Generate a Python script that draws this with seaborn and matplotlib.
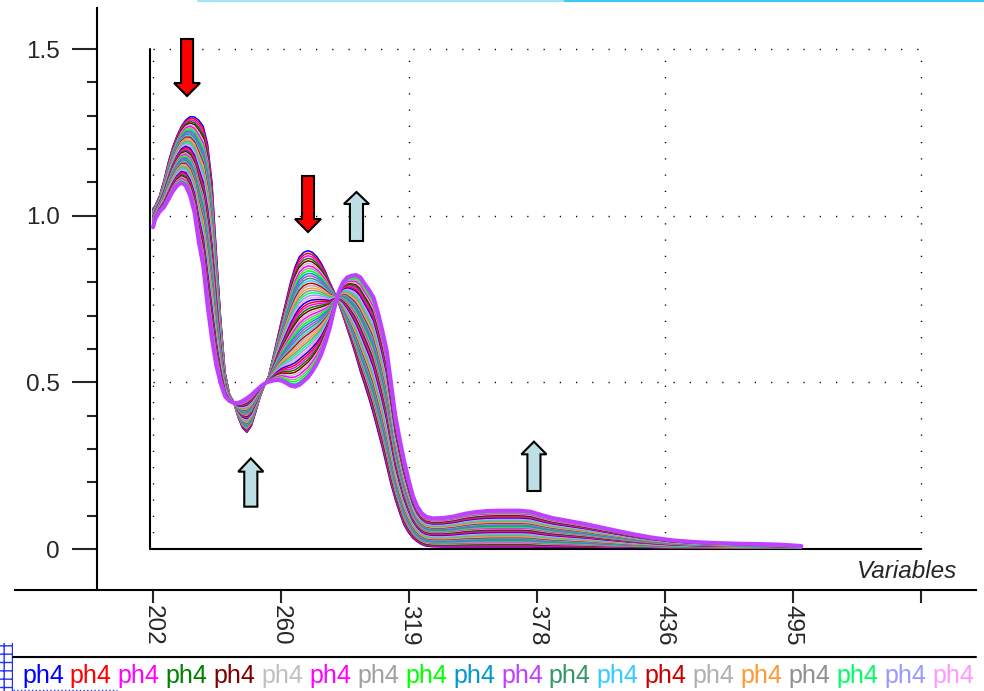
import numpy as np
import pandas as pd
import matplotlib
matplotlib.use("Agg")
import matplotlib.pyplot as plt
from matplotlib.lines import Line2D
from matplotlib.patches import FancyArrow, Rectangle
from matplotlib.ticker import NullLocator
import seaborn as sns

# ---- spectra -------------------------------------------------------------
wavelength = [202, 203, 205, 207, 209, 211, 213, 215, 217, 219, 221, 223, 225,
              227, 229, 231, 233, 235, 237, 239, 241, 243, 245, 247, 249, 251,
              253, 255, 257, 259, 261, 263, 265, 267, 269, 271, 273, 275, 277,
              279, 281, 283, 285, 287, 289, 291, 293, 295, 297, 299, 301, 303,
              305, 307, 309, 311, 313, 315, 317, 319, 321, 323, 325, 327, 330,
              335, 340, 345, 350, 355, 360, 365, 370, 375, 380, 385, 390, 395,
              400, 410, 420, 430, 440, 450, 460, 470, 480, 490, 499]

# first spectrum of the series (acidic form)
acid_form = [1.02, 1.03, 1.06, 1.105, 1.16, 1.205, 1.24, 1.268, 1.287, 1.297,
             1.296, 1.286, 1.268, 1.215, 1.10, 0.89, 0.69, 0.53, 0.465, 0.44,
             0.395, 0.363, 0.35, 0.368, 0.41, 0.455, 0.49, 0.52, 0.575, 0.633,
             0.69, 0.745, 0.80, 0.845, 0.876, 0.89, 0.895, 0.89, 0.877, 0.858,
             0.832, 0.80, 0.772, 0.738, 0.70, 0.66, 0.62, 0.578, 0.532, 0.492,
             0.45, 0.405, 0.355, 0.305, 0.25, 0.195, 0.148, 0.108, 0.072, 0.05,
             0.033, 0.022, 0.014, 0.009, 0.007, 0.006, 0.006, 0.006, 0.006,
             0.006, 0.006, 0.006, 0.006, 0.006, 0.005, 0.005, 0.005, 0.005,
             0.005, 0.004, 0.004, 0.004, 0.003, 0.003, 0.003, 0.003, 0.003,
             0.003, 0.003]

# last spectrum of the series (basic form)
base_form = [0.965, 0.99, 1.012, 1.025, 1.048, 1.072, 1.09, 1.099, 1.09, 1.06,
             1.01, 0.92, 0.85, 0.73, 0.63, 0.55, 0.497, 0.458, 0.444, 0.438,
             0.438, 0.444, 0.452, 0.462, 0.474, 0.486, 0.496, 0.502, 0.505,
             0.507, 0.505, 0.498, 0.49, 0.487, 0.492, 0.503, 0.515, 0.533,
             0.555, 0.583, 0.62, 0.663, 0.72, 0.77, 0.80, 0.815, 0.82, 0.822,
             0.815, 0.795, 0.777, 0.755, 0.71, 0.657, 0.597, 0.50, 0.40, 0.33,
             0.265, 0.21, 0.16, 0.128, 0.108, 0.097, 0.092, 0.093, 0.098, 0.106,
             0.111, 0.114, 0.115, 0.115, 0.115, 0.112, 0.102, 0.093, 0.087,
             0.081, 0.075, 0.061, 0.047, 0.035, 0.026, 0.021, 0.018, 0.016,
             0.015, 0.013, 0.009]

# degree of conversion for each recorded spectrum
conversion = [0.0, 0.02, 0.04, 0.06, 0.08, 0.10, 0.12, 0.14, 0.16, 0.18,
              0.20, 0.22, 0.24, 0.26, 0.28, 0.30, 0.32, 0.34, 0.36, 0.38,
              0.40, 0.42, 0.44, 0.46, 0.48, 0.50, 0.52, 0.54, 0.56, 0.58,
              0.60, 0.62, 0.64, 0.66, 0.68, 0.70, 0.72, 0.74, 0.76, 0.78,
              0.80, 0.82, 0.84, 0.86, 0.88, 0.90, 0.92, 0.94, 0.96, 0.98, 1.0]

sample_colors = ["#0000FF", "#FF0000", "#FF00FF", "#008000", "#800000",
                 "#C0C0C0", "#FF00FF", "#A0A0A0", "#00FF00", "#0099CC",
                 "#C040FF", "#339966", "#33CCFF", "#CC0000", "#B0B0B0",
                 "#FF9933", "#909090", "#00FF66", "#9999FF", "#FF99FF"]
legend_labels = ["ph4"] * 20

x_tick_values = [202, 260.6, 319.2, 377.8, 436.4, 495.0, 553.6]
x_tick_labels = ["202", "260", "319", "378", "436", "495", ""]
y_major = [0, 0.5, 1.0, 1.5]
y_major_labels = ["0", "0.5", "1.0", "1.5"]
y_minor = [0.1, 0.2, 0.3, 0.4, 0.6, 0.7, 0.8, 0.9, 1.1, 1.2, 1.3, 1.4]

# ---- long-form table --------------------------------------------------------
acid = np.array(acid_form)
base = np.array(base_form)
frames = []
for i, f in enumerate(conversion):
    frames.append(pd.DataFrame({
        "wavelength": wavelength,
        "absorbance": (1 - f) * acid + f * base,
        "sample": f"s{i:02d}",
        "marked": "yes" if i == len(conversion) - 1 else "no",
    }))
spectra = pd.concat(frames, ignore_index=True)
hue_order = [f"s{i:02d}" for i in range(len(conversion))]
palette = {name: sample_colors[i % len(sample_colors)]
           for i, name in enumerate(hue_order)}

# ---- figure -----------------------------------------------------------------
sns.set_style("white")
plt.rcParams["font.family"] = ["Liberation Sans", "DejaVu Sans"]
FS = 17.5
FS_LEG = 18

W, H = 984, 691
fig = plt.figure(figsize=(W / 100, H / 100), dpi=100)
ax = fig.add_axes([15 / W, 101 / H, 961 / W, 582 / H])
ax.set_xlim(138.78, 579.0)
ax.set_ylim(-0.123, 1.623)

dots = (0, (0.9, 10.8))
ax.hlines([0.5, 1.0, 1.5], 202, 553.6, colors="black", linestyles=dots,
          linewidth=1.0, zorder=1)
ax.vlines([202, 319.2, 436.4, 553.6], 0, 1.5, colors="black",
          linestyles=dots, linewidth=1.0, zorder=1)

ax.plot([200.6, 200.6], [0, 1.5], color="black", lw=1.5, zorder=1)
ax.plot([200.6, 553.6], [0, 0], color="black", lw=1.5, zorder=1)

sns.lineplot(data=spectra, x="wavelength", y="absorbance", hue="sample",
             hue_order=hue_order, palette=palette, size="marked",
             sizes={"no": 1.1, "yes": 2.9}, size_order=["yes", "no"],
             estimator=None, sort=False, legend=False, ax=ax, zorder=2)

# direction-of-change arrows
def arrow(x, y0, y1, color, shaft, head, head_len):
    ax.add_patch(FancyArrow(x, y0, 0, y1 - y0, width=shaft, head_width=head,
                            head_length=head_len, length_includes_head=True,
                            facecolor=color, edgecolor="black", linewidth=1.5,
                            zorder=5))

arrow(217.6, 1.530, 1.359, "#FF0000", 5.5, 11.9, 0.039)
arrow(273.0, 1.119, 0.951, "#FF0000", 5.5, 11.9, 0.039)
arrow(295.2, 0.924, 1.071, "#BEE0E4", 6.0, 11.5, 0.036)
arrow(246.8, 0.127, 0.272, "#BEE0E4", 6.0, 11.5, 0.040)
arrow(376.5, 0.174, 0.322, "#BEE0E4", 6.0, 11.5, 0.038)

# axes frame
for side in ("top", "right"):
    ax.spines[side].set_visible(False)
ax.spines["left"].set_position(("data", 176.35))
for side in ("left", "bottom"):
    ax.spines[side].set_linewidth(1.5)
    ax.spines[side].set_color("black")

ax.set_yticks(y_major, y_major_labels)
ax.set_yticks(y_minor, minor=True)
ax.set_xticks(x_tick_values, x_tick_labels, rotation=270)
ax.xaxis.set_minor_locator(NullLocator())
ax.tick_params(axis="y", which="major", direction="out", length=18, width=1.5,
               pad=9, labelsize=FS, left=True)
ax.tick_params(axis="y", which="minor", direction="out", length=7.2,
               width=1.5, left=True)
ax.tick_params(axis="x", which="major", direction="out", length=9.4,
               width=1.5, pad=1.5, labelsize=FS, bottom=True)
ax.set_xlabel("")
ax.set_ylabel("")
ax.text(547.4, -0.066, "Variables", style="italic", fontsize=FS,
        ha="center", va="center")

# legend strip
fig.add_artist(Line2D([13 / W, 976 / W], [1 - 657 / H] * 2, color="black",
                      lw=1.5, transform=fig.transFigure))
for i, (lab, col) in enumerate(zip(legend_labels, sample_colors)):
    fig.text((22 + i * 47.9) / W, 1 - 683 / H, lab, color=col,
             fontsize=FS_LEG, va="baseline", ha="left")
fig.add_artist(Rectangle((0, 0), 13 / W, 48 / H, transform=fig.transFigure,
                         facecolor="white", edgecolor="#2030FF", hatch="++",
                         linewidth=0))
fig.add_artist(Line2D([13 / W, 117 / W], [1.5 / H] * 2, color="#2030FF",
                      lw=1.0, ls=":", transform=fig.transFigure))

# window header strip
fig.add_artist(Line2D([198 / W, 565 / W], [1 - 1 / H] * 2, color="#A6E3F5",
                      lw=1.6, transform=fig.transFigure))
fig.add_artist(Line2D([565 / W, 1.0], [1 - 1 / H] * 2, color="#3CC8F2",
                      lw=1.6, transform=fig.transFigure))

fig.savefig("out.png", dpi=100, facecolor="white")
